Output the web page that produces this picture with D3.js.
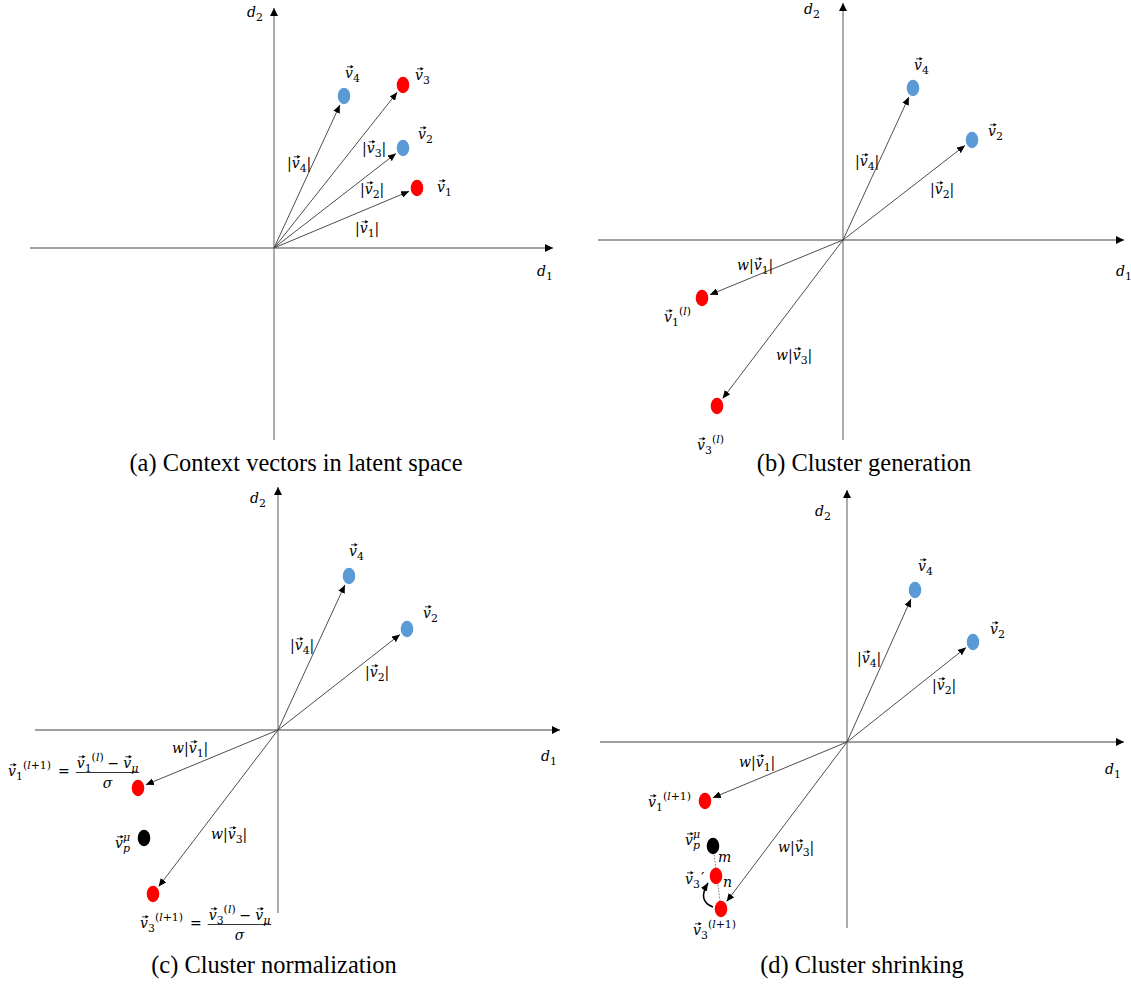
<!DOCTYPE html>
<html>
<head>
<meta charset="utf-8">
<script src="https://cdn.jsdelivr.net/npm/d3@7"></script>
<style>
  body { margin: 0; background: #fff; }
  svg { display: block; }
</style>
</head>
<body>
<script>
// one data unit = 10px, origin = where the axes of a panel cross
const captions = ["(a) Context vectors in latent space", "(b) Cluster generation",
                  "(c) Cluster normalization", "(d) Cluster shrinking"];

// axis extents per panel: [xmin, xmax, ymin, ymax]
const axisExtents = [
  [-24.4, 27.9, -19.2, 24.0],
  [-24.5, 28.1, -20.0, 23.7],
  [-24.3, 28.2, -18.3, 24.3],
  [-24.7, 27.7, -18.6, 25.2]
];

// points (kind: red / blue / mean), vec = drawn as arrow from origin
const pointsA = [
  { name: "v4", x: 7.0, y: 15.2, kind: "blue", vec: true },
  { name: "v3", x: 12.9, y: 16.3, kind: "red", vec: true },
  { name: "v2", x: 12.9, y: 10.0, kind: "blue", vec: true },
  { name: "v1", x: 14.3, y: 6.0, kind: "red", vec: true }
];
const pointsB = [
  { name: "v4", x: 7.0, y: 15.2, kind: "blue", vec: true },
  { name: "v2", x: 12.9, y: 10.0, kind: "blue", vec: true },
  { name: "v1", x: -14.1, y: -5.8, kind: "red", vec: true },
  { name: "v3", x: -12.6, y: -16.6, kind: "red", vec: true }
];
const pointsC = [
  { name: "v4", x: 7.1, y: 15.4, kind: "blue", vec: true },
  { name: "v2", x: 12.9, y: 10.1, kind: "blue", vec: true },
  { name: "v1", x: -14.0, y: -5.8, kind: "red", vec: true },
  { name: "v3", x: -12.5, y: -16.4, kind: "red", vec: true },
  { name: "mean", x: -13.4, y: -10.8, kind: "mean", vec: false }
];
const pointsD = [
  { name: "v4", x: 6.8, y: 15.2, kind: "blue", vec: true },
  { name: "v2", x: 12.6, y: 10.0, kind: "blue", vec: true },
  { name: "v1", x: -14.2, y: -5.9, kind: "red", vec: true },
  { name: "v3", x: -12.6, y: -16.7, kind: "red", vec: true },
  { name: "mean", x: -13.4, y: -10.4, kind: "mean", vec: false },
  { name: "v3s", x: -13.1, y: -13.4, kind: "red", vec: false }
];

// labels: _ subscript, ^ superscript, {} ends a script group
const labelsA = [
  { t: "d_2", x: -2.7, y: 23.1 }, { t: "d_1", x: 26.3, y: -2.8 },
  { t: "v_4", x: 7.1, y: 17.0 }, { t: "v_3", x: 14.1, y: 16.8 },
  { t: "v_2", x: 14.4, y: 10.9 }, { t: "v_1", x: 16.3, y: 5.6 },
  { t: "|v_4|", x: 1.3, y: 8.0 }, { t: "|v_3|", x: 8.8, y: 9.5 },
  { t: "|v_2|", x: 8.6, y: 5.4 }, { t: "|v_1|", x: 8.1, y: 1.5 }
];
const labelsB = [
  { t: "d_2", x: -3.9, y: 22.6 }, { t: "d_1", x: 27.3, y: -3.6 },
  { t: "v_4", x: 7.1, y: 17.0 }, { t: "v_2", x: 14.5, y: 10.4 },
  { t: "|v_4|", x: 1.2, y: 7.4 }, { t: "|v_2|", x: 8.7, y: 4.6 },
  { t: "w|v_1|", x: -10.6, y: -3.0 }, { t: "w|v_3|", x: -6.7, y: -12.0 },
  { t: "v_1{}^(l)", x: -17.9, y: -8.2 }, { t: "v_3{}^(l)", x: -14.6, y: -21.0 }
];
const labelsC = [
  { t: "d_2", x: -2.8, y: 22.7 }, { t: "d_1", x: 26.3, y: -3.1 },
  { t: "v_4", x: 7.1, y: 17.4 }, { t: "v_2", x: 14.5, y: 11.2 },
  { t: "|v_4|", x: 1.2, y: 8.0 }, { t: "|v_2|", x: 8.7, y: 5.3 },
  { t: "w|v_1|", x: -10.6, y: -2.3 }, { t: "w|v_3|", x: -6.7, y: -10.9 },
  { t: "v_p^μ", x: -16.3, y: -11.8 }
];
const formulasC = [
  { lhs: "v_1{}^(l+1)", num: "v_1{}^(l) − v_μ", den: "σ", x: -27.0, y: -4.6 },
  { lhs: "v_3{}^(l+1)", num: "v_3{}^(l) − v_μ", den: "σ", x: -13.8, y: -19.8 }
];
const labelsD = [
  { t: "d_2", x: -3.2, y: 22.6 }, { t: "d_1", x: 25.8, y: -3.2 },
  { t: "v_4", x: 7.1, y: 17.1 }, { t: "v_2", x: 14.3, y: 10.8 },
  { t: "|v_4|", x: 1.0, y: 7.9 }, { t: "|v_2|", x: 8.5, y: 5.2 },
  { t: "w|v_1|", x: -10.8, y: -2.5 }, { t: "w|v_3|", x: -6.9, y: -11.0 },
  { t: "v_1{}^(l+1)", x: -19.9, y: -6.5 }, { t: "v_p^μ", x: -16.2, y: -10.3 },
  { t: "m", x: -12.9, y: -12.0 }, { t: "v_3{}^′", x: -16.2, y: -14.2 },
  { t: "n", x: -12.4, y: -14.5 }, { t: "v_3{}^(l+1)", x: -15.4, y: -19.3 }
];

// layout
const panelOrigins = [[274, 248], [843, 240], [278, 730], [847, 742]];
const captionPos = [[296, 471], [864, 471], [274, 973], [862, 973]];
const colors = { red: "#ff0000", blue: "#5b9bd5", mean: "#000000" };
const mathFont = "DejaVu Serif";
const FS = 14;

const svg = d3.select("body").append("svg").attr("width", 1131).attr("height", 985);
const defs = svg.append("defs");
function marker(id, w, h) {
  defs.append("marker").attr("id", id)
    .attr("viewBox", "0 0 10 10").attr("refX", 10).attr("refY", 5)
    .attr("markerWidth", w).attr("markerHeight", h)
    .attr("markerUnits", "userSpaceOnUse").attr("orient", "auto")
    .attr("preserveAspectRatio", "none")
    .append("path").attr("d", "M0,0L10,5L0,10Z").attr("fill", "#000");
}
marker("axisHead", 8, 8);
marker("vecHead", 8, 7);

function parse(s) {
  const toks = [];
  let i = 0;
  while (i < s.length) {
    const c = s[i];
    if (c === "_" || c === "^") {
      i++;
      let arg;
      if (s[i] === "(") { const j = s.indexOf(")", i); arg = s.slice(i, j + 1); i = j + 1; }
      else { arg = s[i]; i++; }
      toks.push({ type: c === "_" ? "sub" : "sup", text: arg });
    } else if (s.startsWith("{}", i)) {
      toks.push({ type: "break" }); i += 2;
    } else {
      toks.push({ type: "base", text: c }); i++;
    }
  }
  return toks;
}

function glyph(g, ch, x, y, size) {
  if (ch === " ") return size * 0.28;
  const italic = /[a-zA-Zσμ]/.test(ch);
  const t = g.append("text").attr("x", x).attr("y", y)
    .attr("font-family", mathFont).attr("font-size", size)
    .attr("font-style", italic ? "italic" : "normal")
    .attr("fill", "#000").text(ch);
  const w = t.node().getComputedTextLength();
  if (ch === "v") {
    const ay = y - size * 0.8, x0 = x + size * 0.14, x1 = x + w + size * 0.06;
    g.append("line").attr("x1", x0).attr("x2", x1 - 2).attr("y1", ay).attr("y2", ay)
      .attr("stroke", "#000").attr("stroke-width", 0.75);
    g.append("path").attr("d", `M${x1},${ay}L${x1 - 3.2},${ay - 1.7}L${x1 - 3.2},${ay + 1.7}Z`)
      .attr("fill", "#000");
  }
  return w;
}

function drawMath(g, x, y, str, fs) {
  let cx = x, sStart = x, sEnd = x, inScript = false;
  parse(str).forEach(tok => {
    if (tok.type === "base") {
      if (inScript) { cx = sEnd; inScript = false; }
      cx += glyph(g, tok.text, cx, y, fs);
      sStart = cx; sEnd = cx;
    } else if (tok.type === "break") {
      cx = sEnd; sStart = sEnd; inScript = false;
    } else {
      const prime = tok.text === "′";
      const size = prime ? fs * 1.1 : fs * 0.78;
      const dy = tok.type === "sub" ? fs * 0.3 : (prime ? -fs * 0.1 : -fs * 0.52);
      let sx = sStart + (prime ? 1 : 0);
      for (const ch of tok.text) sx += glyph(g, ch, sx, y + dy, size);
      sEnd = Math.max(sEnd, sx);
      inScript = true;
    }
  });
  return Math.max(cx, sEnd);
}

function drawFormula(g, x, y, f) {
  let cx = drawMath(g, x, y, f.lhs, FS) + 7;
  cx += glyph(g, "=", cx, y, FS) + 6;
  const nEnd = drawMath(g.append("g"), cx + 1, y - 8, f.num, FS);
  const barY = y - 3.5;
  g.append("line").attr("x1", cx).attr("x2", nEnd + 1).attr("y1", barY).attr("y2", barY)
    .attr("stroke", "#000").attr("stroke-width", 0.8);
  const dg = g.append("g");
  const dw = drawMath(dg, 0, 0, f.den, FS);
  dg.attr("transform", `translate(${(cx + nEnd + 1) / 2 - dw / 2},${barY + 15})`);
}

const panelPoints = [pointsA, pointsB, pointsC, pointsD];
const panelLabels = [labelsA, labelsB, labelsC, labelsD];
const RX = 6.3, RY = 8.3;

panelPoints.forEach((pts, i) => {
  const [ox, oy] = panelOrigins[i];
  const x = d3.scaleLinear().domain([0, 1]).range([ox, ox + 10]);
  const y = d3.scaleLinear().domain([0, 1]).range([oy, oy - 10]);
  const g = svg.append("g").attr("class", "panel");
  const [x0, x1, y0, y1] = axisExtents[i];

  // axes
  g.append("line").attr("x1", x(x0)).attr("x2", x(x1)).attr("y1", y(0)).attr("y2", y(0))
    .attr("stroke", "#7f7f7f").attr("stroke-width", 1.3).attr("marker-end", "url(#axisHead)");
  g.append("line").attr("x1", x(0)).attr("x2", x(0)).attr("y1", y(y0)).attr("y2", y(y1))
    .attr("stroke", "#7f7f7f").attr("stroke-width", 1.3).attr("marker-end", "url(#axisHead)");

  // panel d: dotted link mean -> v3' -> v3 and curved arrow
  if (i === 3) {
    const mean = pts.find(p => p.name === "mean");
    const v3 = pts.find(p => p.name === "v3");
    const v3s = pts.find(p => p.name === "v3s");
    g.append("line").attr("x1", x(mean.x)).attr("y1", y(mean.y))
      .attr("x2", x(v3.x)).attr("y2", y(v3.y))
      .attr("stroke", "#666").attr("stroke-width", 0.9).attr("stroke-dasharray", "1.5,1.5");
    const sx = x(v3.x) - 8, sy = y(v3.y) - 2;
    const ex = x(v3s.x) - 8, ey = y(v3s.y) + 7;
    g.append("path")
      .attr("d", `M${sx},${sy}Q${sx - 16},${sy - 6} ${ex},${ey}`)
      .attr("fill", "none").attr("stroke", "#000").attr("stroke-width", 1.5)
      .attr("marker-end", "url(#vecHead)");
  }

  // vectors
  pts.filter(p => p.vec).forEach(p => {
    const px = x(p.x), py = y(p.y), ax = x(0), ay = y(0);
    const dx = px - ax, dy = py - ay, len = Math.hypot(dx, dy);
    const ux = dx / len, uy = dy / len;
    const r = 1 / Math.sqrt((ux / RX) ** 2 + (uy / RY) ** 2) + 2;
    g.append("line").attr("x1", ax).attr("y1", ay)
      .attr("x2", px - ux * r).attr("y2", py - uy * r)
      .attr("stroke", "#3a3a3a").attr("stroke-width", 0.9)
      .attr("marker-end", "url(#vecHead)");
  });

  // dots
  g.selectAll("ellipse").data(pts).join("ellipse")
    .attr("cx", d => x(d.x)).attr("cy", d => y(d.y))
    .attr("rx", RX).attr("ry", RY)
    .attr("fill", d => colors[d.kind]);

  // labels
  panelLabels[i].forEach(l => drawMath(g, x(l.x), y(l.y), l.t, FS));
  if (i === 2) formulasC.forEach(f => drawFormula(g, x(f.x), y(f.y), f));

  // caption
  svg.append("text")
    .attr("transform", `translate(${captionPos[i][0]},${captionPos[i][1]}) scale(0.94,1)`)
    .attr("text-anchor", "middle").attr("font-family", "Liberation Serif")
    .attr("font-size", 26).attr("fill", "#000").text(captions[i]);
});
</script>
</body>
</html>
